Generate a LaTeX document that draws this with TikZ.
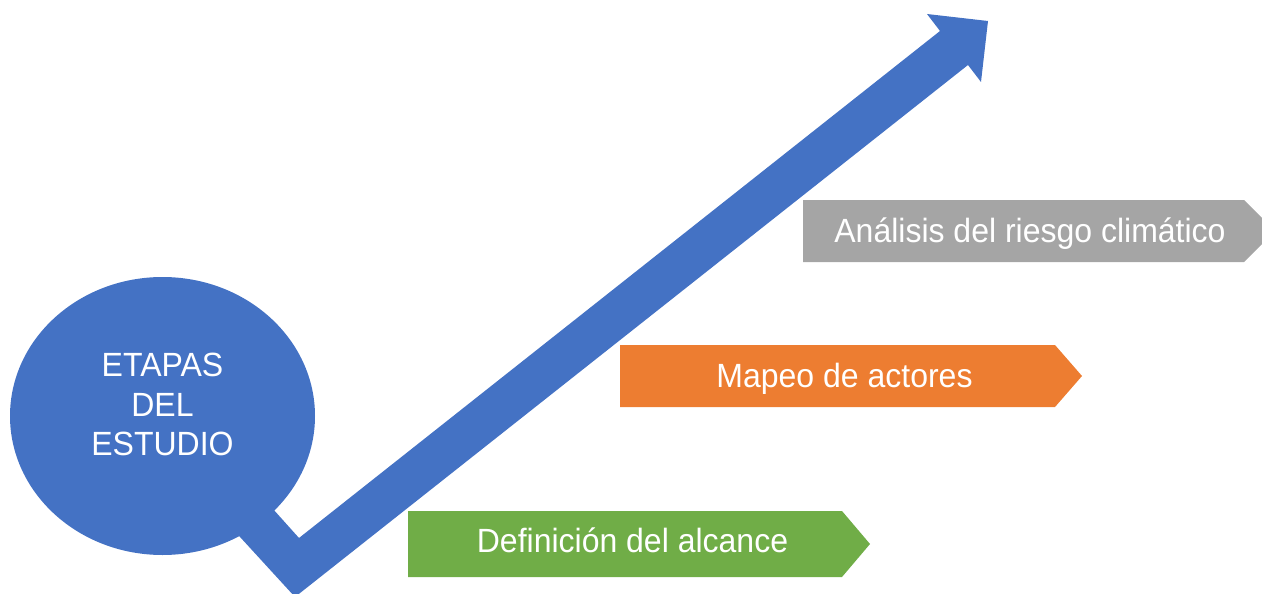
\documentclass[tikz,border=0pt]{standalone}
\usepackage{fontspec}
\setmainfont{Liberation Sans}
\usetikzlibrary{shapes.geometric}
\definecolor{cblue}{HTML}{4472C4}
\definecolor{corange}{HTML}{ED7D31}
\definecolor{cgray}{HTML}{A5A5A5}
\definecolor{cgreen}{HTML}{70AD47}
\newcommand{\stx}[1]{\scalebox{1}[1.05]{#1}}
\begin{document}
\begin{tikzpicture}[x=1pt,y=-1pt,
  lbl/.style={text=white, font=\fontsize{32}{39.5}\selectfont, inner sep=0pt, anchor=base},
  blob/.style={ellipse, fill=cblue, inner sep=0pt, minimum width=305pt, minimum height=278pt},
]
\useasboundingbox (0,0) rectangle (1262,594);
% bent block arrow
\fill[cblue] (221,451) -- (299,538) -- (940,31) -- (927,14) -- (988,21)
  -- (981,82) -- (968,65) -- (295,597) -- (186,478) -- cycle;
% circle
\node[blob] (circ) at (162.5,416) {};
\node[lbl] (l1) at (162.5,376) {\stx{ETAPAS}};
\node[lbl] (l2) at (162.5,416) {\stx{DEL}};
\node[lbl] (l3) at (162.5,455) {\stx{ESTUDIO}};
% stage banners
\fill[cgray] (803,200) -- (1244,200) -- (1275,231) -- (1244,262) -- (803,262) -- cycle;
\fill[corange] (620,345) -- (1055,345) -- (1082,376) -- (1055,407) -- (620,407) -- cycle;
\fill[cgreen] (408,511) -- (842,511) -- (870,544) -- (842,577) -- (408,577) -- cycle;
\node[lbl] (s3) at (1030,242) {\stx{Análisis del riesgo climático}};
\node[lbl] (s2) at (844.5,387) {\stx{Mapeo de actores}};
\node[lbl] (s1) at (632.5,552) {\stx{Definición del alcance}};
\end{tikzpicture}
\end{document}
